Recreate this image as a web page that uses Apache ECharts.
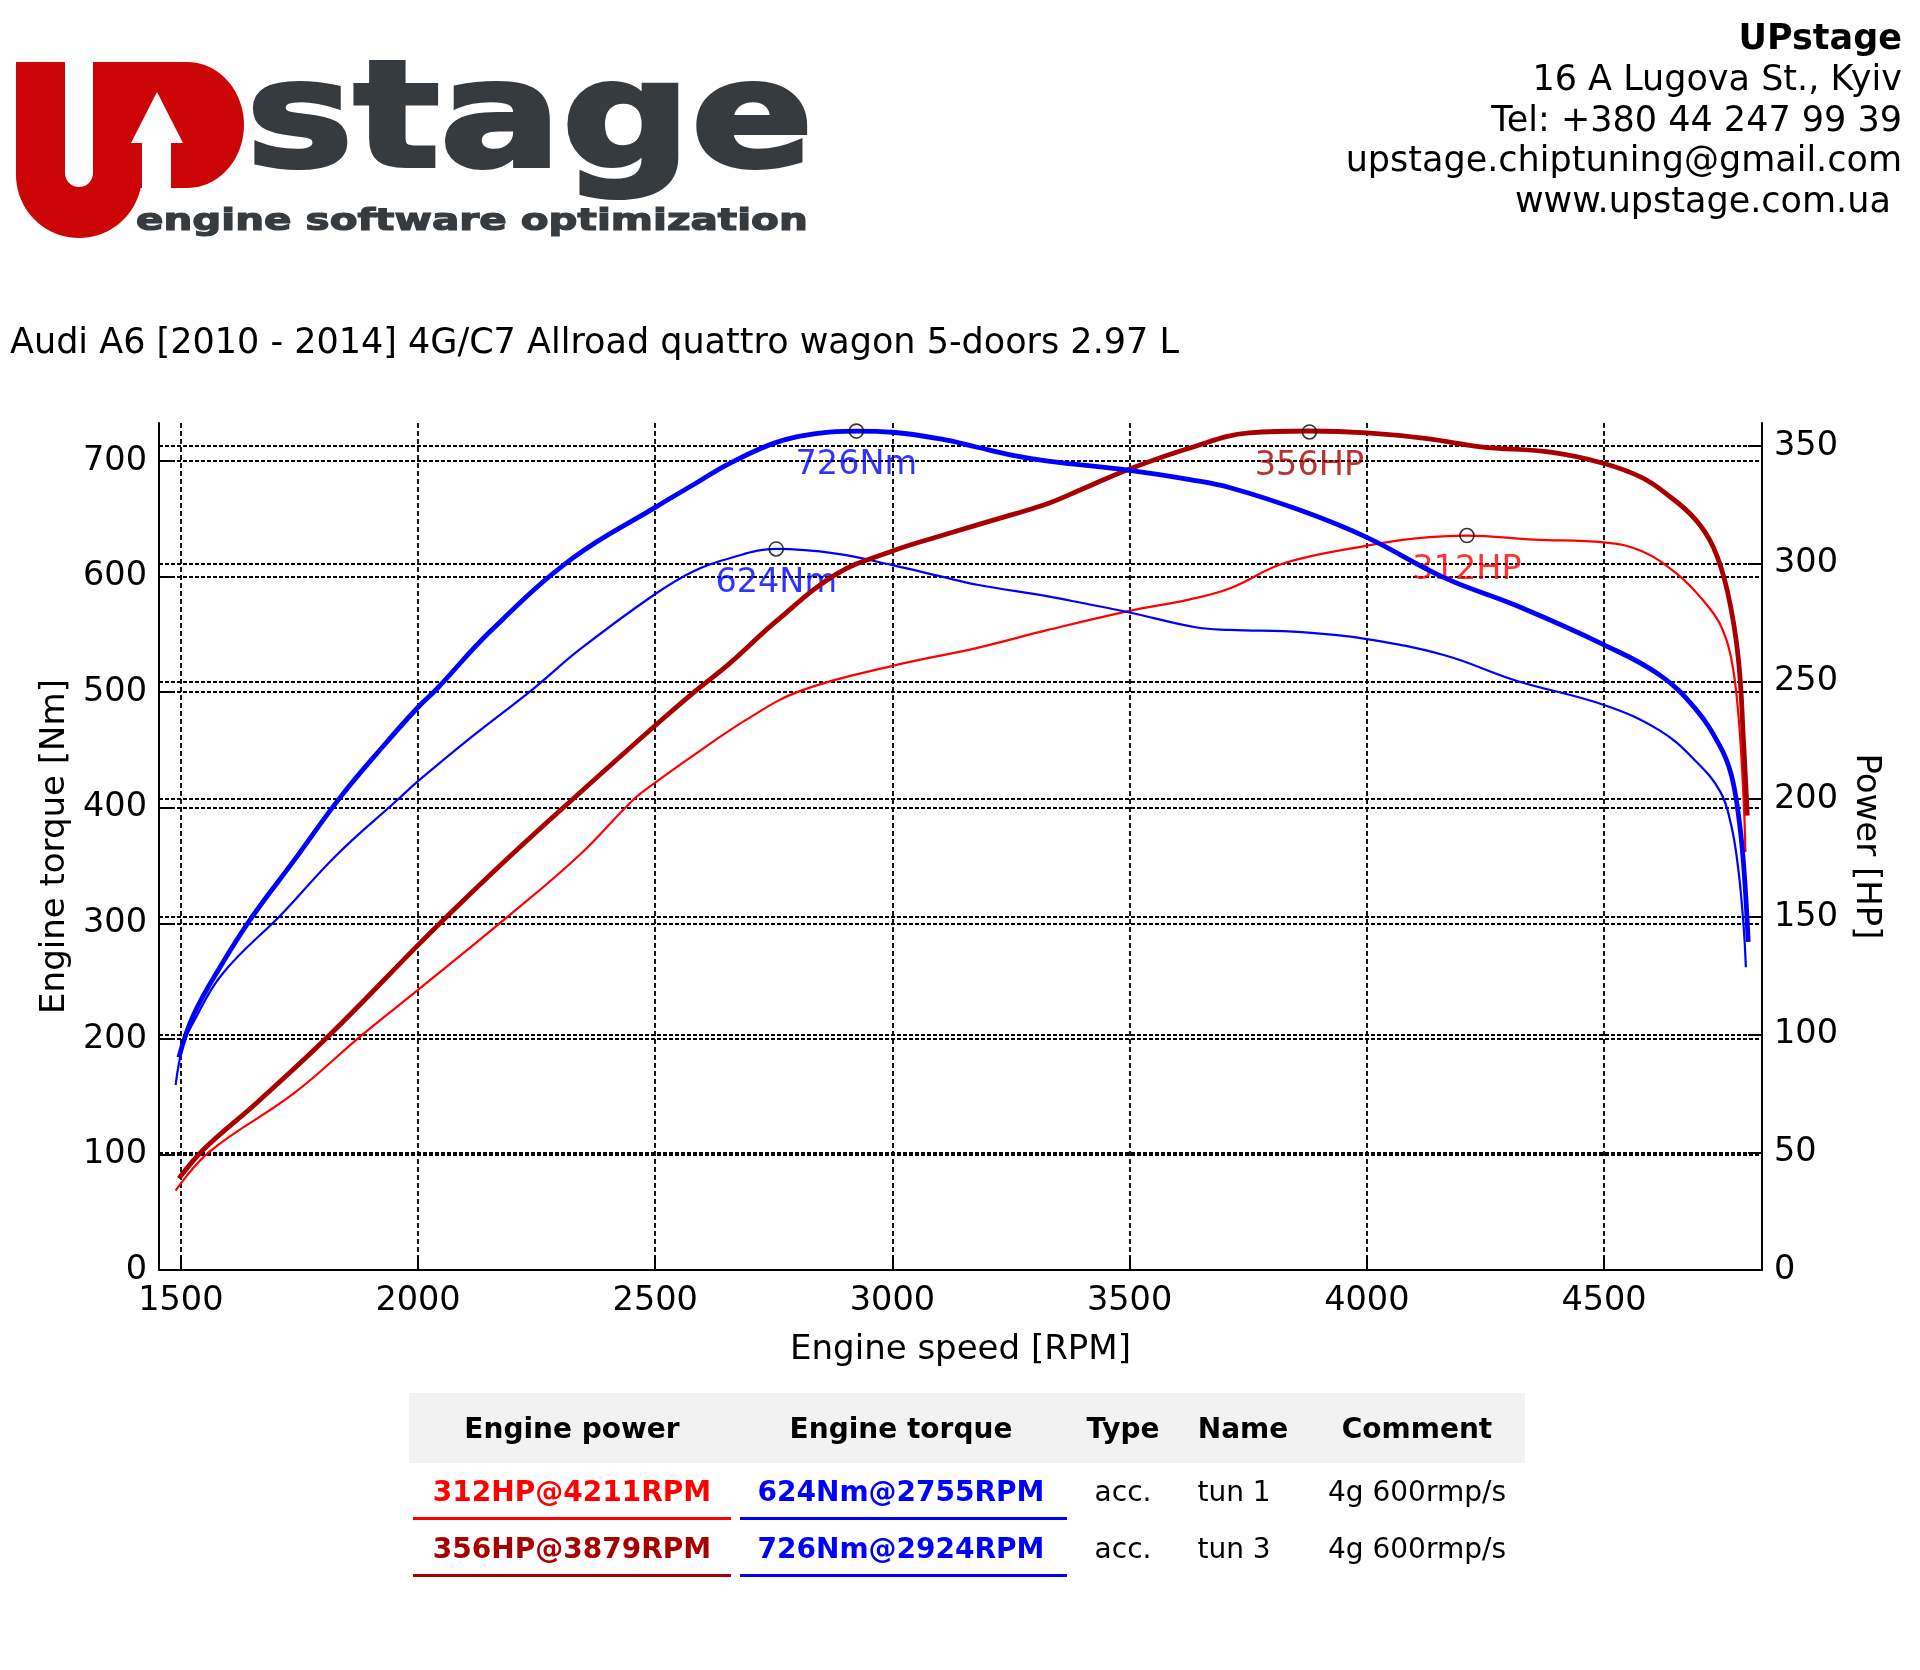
<!DOCTYPE html>
<html>
<head>
<meta charset="utf-8">
<title>UPstage dyno chart</title>
<script src="https://cdn.jsdelivr.net/npm/echarts@6/dist/echarts.min.js"></script>
<style>
  html, body { margin: 0; padding: 0; background: #fff; }
  #chart { width: 1920px; height: 1670px; }
</style>
</head>
<body>
<div id="chart"></div>
<script>
// axis ticks
const rpmTicks = [1500, 2000, 2500, 3000, 3500, 4000, 4500];
const torqueTicks = [0, 100, 200, 300, 400, 500, 600, 700];
const powerTicks = [0, 50, 100, 150, 200, 250, 300, 350];

// tun 3 (thick lines)
const tun3TorqueRpm = [1496, 1526, 1587, 1651, 1738, 1836, 1926, 2000, 2040, 2153, 2326, 2500, 2582, 2657, 2754, 2843, 2924, 3000, 3104, 3179, 3254, 3328, 3500, 3627, 3712, 3863, 4000, 4164, 4315, 4500, 4617, 4692, 4745, 4768, 4783, 4794, 4804];
const tun3Torque = [184, 220, 265, 306, 354, 409, 453, 487, 503, 553, 616, 660, 680, 698, 716, 724, 726, 725, 719, 712, 705, 700, 692, 684, 677, 657, 634, 599, 575, 541, 515, 486, 453, 429, 395, 352, 284];
const tun3PowerRpm = [1496, 1549, 1662, 1813, 2000, 2062, 2191, 2326, 2500, 2582, 2657, 2754, 2881, 3000, 3104, 3254, 3328, 3403, 3500, 3627, 3752, 3879, 4000, 4127, 4240, 4391, 4500, 4579, 4632, 4692, 4730, 4760, 4783, 4794, 4802];
const tun3Power = [38.9, 51.4, 71.4, 99.7, 138, 150.4, 175.2, 200, 231.3, 245.5, 257.7, 275.4, 295.5, 305.4, 312, 321, 325.6, 332, 340.3, 349.2, 355.6, 356.4, 355.6, 353.2, 349.7, 347.3, 342.6, 336.7, 329.6, 319, 307.2, 288.4, 260, 224.7, 193];

// tun 1 (thin lines)
const tun1TorqueRpm = [1489, 1505, 1526, 1587, 1715, 1828, 1957, 2000, 2115, 2243, 2341, 2500, 2582, 2657, 2755, 2881, 3000, 3104, 3179, 3328, 3403, 3500, 3642, 3712, 3863, 4000, 4164, 4315, 4500, 4617, 4692, 4745, 4768, 4783, 4794, 4799];
const tun1Torque = [160, 195, 214, 256, 309, 359, 407, 423, 462, 503, 537, 585, 605, 616, 624, 620, 610, 600, 593, 583, 577, 569, 556, 554, 552, 546, 532, 510, 489, 467, 441, 414, 385, 347, 299, 262];
const tun1PowerRpm = [1489, 1560, 1738, 1881, 2000, 2191, 2341, 2455, 2500, 2582, 2694, 2806, 3000, 3179, 3328, 3500, 3627, 3712, 3825, 4000, 4104, 4211, 4353, 4500, 4579, 4655, 4707, 4745, 4768, 4783, 4794, 4798];
const tun1Power = [33.7, 50.2, 75, 99.7, 119, 150.4, 176.4, 200, 207, 218.8, 234, 246, 256.6, 264.3, 271.9, 280, 284.9, 289.6, 300.2, 307.7, 310.8, 312, 310.3, 309.1, 305.4, 295.5, 284.9, 274.2, 260, 236.5, 201, 177.6];

// peaks
const torquePeakRpm = [2924, 2755];
const torquePeak = [726, 624];
const torquePeakLabel = ['726Nm', '624Nm'];
const powerPeakRpm = [3879, 4211];
const powerPeak = [356, 312];
const powerPeakLabel = ['356HP', '312HP'];

// table
const tableHeader = ['Engine power', 'Engine torque', 'Type', 'Name', 'Comment'];
const tableRows = [
  ['312HP@4211RPM', '624Nm@2755RPM', 'acc.', 'tun 1', '4g 600rmp/s'],
  ['356HP@3879RPM', '726Nm@2924RPM', 'acc.', 'tun 3', '4g 600rmp/s']
];

const contactLines = ['16 A Lugova St., Kyiv', 'Tel: +380 44 247 99 39', 'upstage.chiptuning@gmail.com', 'www.upstage.com.ua '];

const FONT = '"DejaVu Sans"';
const RED = '#ff0000';
const DARKRED = '#a80000';
const BLUE = '#0000ff';
const LOGO_GREY = '#363b40';
const LOGO_RED = '#cc0606';

function zip(xs, ys) {
  return xs.map((x, i) => [x, ys[i]]);
}

function arcPts(cx, cy, rx, ry, a0, a1, n) {
  let pts = [];
  for (let i = 0; i <= n; i++) {
    let a = a0 + (a1 - a0) * i / n;
    pts.push([cx + rx * Math.cos(a), cy + ry * Math.sin(a)]);
  }
  return pts;
}

function txt(text, x, y, size, opts) {
  opts = opts || {};
  let el = {
    type: 'text', x: x, y: y, z: 10,
    scaleX: opts.scaleX || 1,
    style: {
      text: text, x: 0, y: 0,
      font: (opts.bold ? 'bold ' : '') + size + 'px ' + FONT,
      fill: opts.color || '#000',
      textAlign: opts.align || 'left',
      verticalAlign: 'middle'
    }
  };
  if (opts.stroke) {
    el.style.stroke = opts.color;
    el.style.lineWidth = opts.stroke;
  }
  return el;
}

// logo shapes
const uShape = [[16, 62], [65, 62], [65, 173]]
  .concat(arcPts(79, 173, 14, 14, Math.PI, 0, 16))
  .concat([[93, 62], [142, 62], [142, 175]])
  .concat(arcPts(79, 175, 63, 63, 0, Math.PI, 40));
const dShape = [[93, 62], [187, 62]]
  .concat(arcPts(187, 125, 57, 63, -Math.PI / 2, Math.PI / 2, 40))
  .concat([[93, 188]]);
const arrowShape = [[157, 92], [183, 143], [171, 143], [171, 191], [142, 191], [142, 143], [131, 143]];

let graphics = [
  { type: 'polygon', shape: { points: dShape }, style: { fill: LOGO_RED } },
  { type: 'polygon', shape: { points: uShape }, style: { fill: LOGO_RED } },
  { type: 'polygon', shape: { points: arrowShape }, style: { fill: '#fff' } },
  txt('stage', 246, 128, 148, { bold: true, color: LOGO_GREY, scaleX: 1.22, stroke: 4 }),
  txt('engine software optimization', 136, 222, 30, { bold: true, color: LOGO_GREY, scaleX: 1.35, stroke: 1.2 }),
  txt('UPstage', 1902, 40, 35, { bold: true, align: 'right' }),
  txt('Audi A6 [2010 - 2014] 4G/C7 Allroad quattro wagon 5-doors 2.97 L', 10, 344, 35)
];
contactLines.forEach((line, i) => {
  graphics.push(txt(line, 1902, 81 + i * 40.7, 35, { align: 'right' }));
});

// table under the chart
const colX = [572, 901, 1123, 1243, 1417];
const rowY = [1494, 1551];
const powerColors = [RED, DARKRED];
graphics.push({ type: 'rect', shape: { x: 409, y: 1393, width: 1116, height: 70 }, style: { fill: '#f2f2f2' } });
tableHeader.forEach((h, i) => {
  graphics.push(txt(h, colX[i], 1431, 28, { bold: true, align: 'center' }));
});
tableRows.forEach((row, r) => {
  graphics.push(txt(row[0], colX[0], rowY[r], 28, { bold: true, align: 'center', color: powerColors[r] }));
  graphics.push(txt(row[1], colX[1], rowY[r], 28, { bold: true, align: 'center', color: BLUE }));
  graphics.push(txt(row[2], colX[2], rowY[r], 28, { align: 'center' }));
  graphics.push(txt(row[3], 1234, rowY[r], 28, { align: 'center' }));
  graphics.push(txt(row[4], colX[4], rowY[r], 28, { align: 'center' }));
  graphics.push({ type: 'rect', shape: { x: 413, y: rowY[r] + 23, width: 318, height: 3 }, style: { fill: powerColors[r] } });
  graphics.push({ type: 'rect', shape: { x: 740, y: rowY[r] + 23, width: 327, height: 3 }, style: { fill: BLUE } });
});

const axisFont = { color: '#000', fontSize: 33.5, fontFamily: FONT };
const nameFont = { color: '#000', fontSize: 34, fontFamily: FONT };

function lineSeries(name, xs, ys, axis, color, width) {
  return {
    name: name, type: 'line', yAxisIndex: axis,
    data: zip(xs, ys),
    showSymbol: false, smooth: 0.4,
    lineStyle: { color: color, width: width },
    itemStyle: { color: color },
    z: 3
  };
}

function peakLabels(xs, ys, labels, colors, axis) {
  return {
    type: 'scatter', yAxisIndex: axis, z: 1, symbolSize: 1,
    itemStyle: { color: 'rgba(0,0,0,0)' },
    data: xs.map((x, i) => ({ name: labels[i], value: [x, ys[i]], label: { color: colors[i] } })),
    label: {
      show: true, position: 'bottom', distance: 17, formatter: '{b}',
      fontSize: 33.5, fontFamily: FONT, textBorderWidth: 0
    }
  };
}

function peakMarks(xs, ys, axis) {
  return {
    type: 'scatter', yAxisIndex: axis, z: 5, symbol: 'circle', symbolSize: 14,
    itemStyle: { color: 'rgba(0,0,0,0)', borderColor: '#000', borderWidth: 1.6 },
    data: zip(xs, ys)
  };
}

let option = {
  backgroundColor: '#fff',
  animation: false,
  graphic: graphics,
  grid: { left: 159, right: 158, top: 423, bottom: 400, outerBoundsMode: 'none' },
  xAxis: {
    type: 'value', min: 1454, max: 4833,
    name: 'Engine speed [RPM]', nameLocation: 'middle', nameGap: 63,
    nameTextStyle: nameFont,
    axisLine: { lineStyle: { color: '#000', width: 2 } },
    axisTick: { inside: true, length: 14, customValues: rpmTicks, lineStyle: { color: '#000', width: 2 } },
    axisLabel: Object.assign({ customValues: rpmTicks, margin: 14, formatter: v => String(v) }, axisFont),
    splitLine: { show: true, lineStyle: { color: '#000', width: 1.8, type: [5, 3] } }
  },
  yAxis: [
    {
      type: 'value', min: 0, max: 733, position: 'left',
      name: 'Engine torque [Nm]', nameLocation: 'middle', nameGap: 82, nameRotate: 90,
      nameTextStyle: nameFont,
      axisLine: { show: true, lineStyle: { color: '#000', width: 2 } },
      axisTick: { show: true, inside: true, length: 14, customValues: torqueTicks, lineStyle: { color: '#000', width: 2 } },
      axisLabel: Object.assign({ customValues: torqueTicks, margin: 12, formatter: v => String(v) }, axisFont),
      splitLine: { show: true, lineStyle: { color: '#000', width: 2.2, type: [4, 2] } }
    },
    {
      type: 'value', min: 0, max: 359.8, position: 'right',
      name: 'Power [HP]', nameLocation: 'middle', nameGap: 75, nameRotate: -90,
      nameTextStyle: nameFont,
      axisLine: { show: true, lineStyle: { color: '#000', width: 2 } },
      axisTick: { show: true, inside: true, length: 14, customValues: powerTicks, lineStyle: { color: '#000', width: 2 } },
      axisLabel: Object.assign({ customValues: powerTicks, margin: 12, formatter: v => String(v) }, axisFont),
      splitLine: { show: true, lineStyle: { color: '#000', width: 2.2, type: [4, 2] } }
    }
  ],
  series: [
    peakLabels(torquePeakRpm, torquePeak, torquePeakLabel, [BLUE, BLUE], 0),
    peakLabels(powerPeakRpm, powerPeak, powerPeakLabel, [DARKRED, RED], 1),
    lineSeries('tun 1 power', tun1PowerRpm, tun1Power, 1, RED, 2.2),
    lineSeries('tun 1 torque', tun1TorqueRpm, tun1Torque, 0, BLUE, 2.2),
    lineSeries('tun 3 power', tun3PowerRpm, tun3Power, 1, DARKRED, 4.8),
    lineSeries('tun 3 torque', tun3TorqueRpm, tun3Torque, 0, BLUE, 4.8),
    peakMarks(torquePeakRpm, torquePeak, 0),
    peakMarks(powerPeakRpm, powerPeak, 1)
  ]
};

let chart = echarts.init(document.getElementById('chart'));
chart.setOption(option);
window.onresize = function () {
  chart.resize();
};
</script>
</body>
</html>
